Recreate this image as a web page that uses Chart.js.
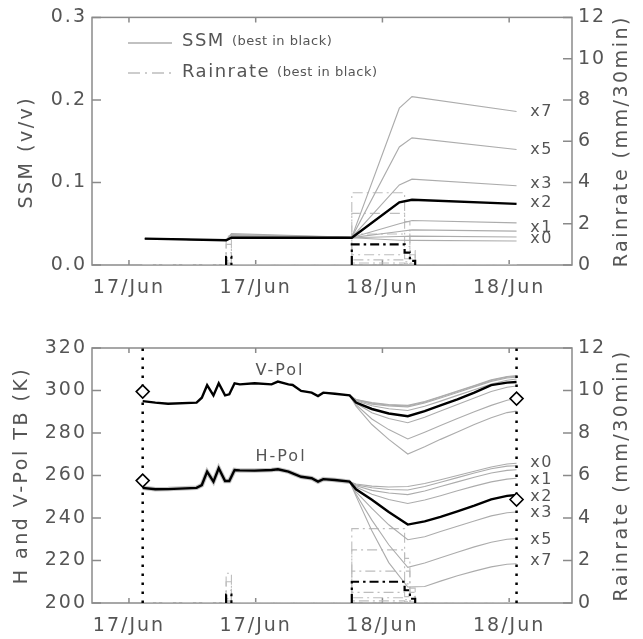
<!DOCTYPE html>
<html>
<head>
<meta charset="utf-8">
<script src="https://cdn.jsdelivr.net/npm/chart.js@4.4.0/dist/chart.umd.min.js"></script>
<style>
  html, body { margin: 0; padding: 0; background: #fff; }
  #wrap { position: relative; width: 643px; height: 639px; }
  canvas { position: absolute; left: 0; }
</style>
</head>
<body>
<div id="wrap">
  <canvas id="ssm" width="643" height="320" style="top:0"></canvas>
  <canvas id="tb" width="643" height="319" style="top:320px"></canvas>
</div>
<script>
'use strict';

// Time axis is hours since 17/Jun 00:00.
const X_TICKS = [0, 12, 24, 36];
const X_TICK_LABELS = ['17/Jun', '17/Jun', '18/Jun', '18/Jun'];

// --- top panel: surface soil moisture, one run per rain multiplier
const SSM_T  = [1.5, 9.2, 9.7, 21.1, 25.6, 26.8, 36.7];
const SSM_X0 = [0.032, 0.030, 0.0325, 0.0330, 0.0300, 0.0298, 0.0290];
const SSM_XB = [0.032, 0.030, 0.0330, 0.0331, 0.0345, 0.0350, 0.0340];
const SSM_XA = [0.032, 0.030, 0.0340, 0.0332, 0.0405, 0.0425, 0.0410];
const SSM_X1 = [0.032, 0.030, 0.0350, 0.0333, 0.0500, 0.0540, 0.0510];
const SSM_X2 = [0.032, 0.030, 0.0330, 0.0330, 0.0760, 0.0790, 0.0740];
const SSM_X3 = [0.032, 0.030, 0.0360, 0.0334, 0.0970, 0.1040, 0.0960];
const SSM_X5 = [0.032, 0.030, 0.0370, 0.0335, 0.1430, 0.1540, 0.1400];
const SSM_X7 = [0.032, 0.030, 0.0380, 0.0336, 0.1900, 0.2040, 0.1860];
const SSM_LABELS   = ['x7', 'x5', 'x3', 'x2', 'x1', 'x0'];
const SSM_LABEL_AT = [0.186, 0.140, 0.098, 0.075, 0.045, 0.032];

// --- rain rate (mm/30min), stepped
const RAIN_T  = [1.3, 9.2, 9.2, 9.7, 21.1, 21.1, 26.1, 26.6, 27.1, 36.7];
const RAIN_X0 = [0, 0, 0,    0, 0, 0,    0,    0,    0, 0];
const RAIN_XB = [0, 0, 0.04, 0, 0, 0.10, 0.06, 0.02, 0, 0];
const RAIN_XA = [0, 0, 0.10, 0, 0, 0.25, 0.15, 0.05, 0, 0];
const RAIN_X1 = [0, 0, 0.20, 0, 0, 0.50, 0.30, 0.10, 0, 0];
const RAIN_X2 = [0, 0, 0.40, 0, 0, 1.00, 0.60, 0.20, 0, 0];
const RAIN_X3 = [0, 0, 0.60, 0, 0, 1.50, 0.90, 0.30, 0, 0];
const RAIN_X5 = [0, 0, 1.00, 0, 0, 2.50, 1.50, 0.50, 0, 0];
const RAIN_X7 = [0, 0, 1.40, 0, 0, 3.50, 2.10, 0.70, 0, 0];

// --- bottom panel: brightness temperatures (K)
const TB_PRE_T = [1.3, 2.5, 3.7, 6.4, 6.9, 7.4, 8.0, 8.5, 9.1, 9.5, 10.0, 10.5, 11.9,
                  13.5, 14.1, 15.1, 15.5, 16.3, 17.3, 17.9, 18.4, 19.5, 20.9];
const V_PRE = [295.0, 294.3, 293.8, 294.3, 296.6, 302.5, 297.7, 303.4, 297.7, 298.2, 303.4, 302.9, 303.4,
               302.9, 304.2, 302.9, 302.6, 299.8, 299.0, 297.4, 299.0, 298.5, 297.7];
const H_PRE = [254.2, 253.5, 253.6, 254.2, 255.5, 261.8, 257.1, 263.4, 257.4, 257.4, 262.6, 262.4, 262.3,
               262.6, 262.9, 261.8, 261.0, 259.4, 258.7, 257.1, 258.3, 257.9, 257.1];

const TB_POST_T = [20.9, 21.5, 23.0, 24.6, 26.4, 28.0, 29.5, 31.1, 32.7, 34.3, 35.8, 36.7];
const V_X0 = [297.7, 295.8, 294.3, 293.4, 293.0, 294.8, 297.2, 299.8, 302.4, 305.0, 306.6, 307.0];
const V_XB = [297.7, 295.7, 294.0, 293.1, 292.7, 294.5, 296.9, 299.5, 302.1, 304.7, 306.3, 306.7];
const V_XA = [297.7, 295.5, 293.6, 292.7, 292.3, 294.1, 296.5, 299.1, 301.7, 304.3, 305.9, 306.3];
const V_X1 = [297.7, 295.2, 292.8, 291.4, 290.6, 292.6, 295.0, 297.7, 300.4, 303.0, 304.8, 305.4];
const V_X2 = [297.7, 294.3, 291.3, 289.2, 287.9, 290.3, 293.0, 295.8, 299.0, 302.5, 303.7, 304.0];
const V_X3 = [297.7, 294.0, 289.5, 286.8, 284.8, 287.4, 290.4, 293.4, 296.5, 299.5, 301.5, 302.1];
const V_X5 = [297.7, 293.3, 286.6, 281.6, 277.2, 280.4, 283.5, 286.8, 290.0, 293.0, 295.4, 296.2];
const V_X7 = [297.7, 292.6, 284.0, 277.0, 270.1, 273.5, 277.0, 280.5, 284.0, 287.2, 289.6, 290.3];
const H_X0 = [257.1, 256.0, 255.0, 254.6, 254.8, 256.2, 258.0, 260.0, 262.0, 264.0, 265.4, 265.8];
const H_XB = [257.1, 255.6, 254.2, 253.4, 253.2, 254.8, 256.8, 259.0, 261.2, 263.2, 264.4, 264.6];
const H_XA = [257.1, 255.2, 253.0, 251.8, 251.0, 252.7, 254.8, 257.0, 259.2, 261.2, 262.4, 262.7];
const H_X1 = [257.1, 254.6, 251.2, 248.7, 246.8, 248.5, 250.5, 252.8, 255.0, 257.0, 258.3, 258.7];
const H_X2 = [257.1, 253.5, 248.6, 242.8, 236.9, 238.4, 240.5, 243.1, 245.8, 248.8, 250.4, 250.8];
const H_X3 = [257.1, 252.3, 244.5, 236.8, 229.8, 231.2, 233.6, 236.1, 238.6, 241.0, 242.5, 242.8];
const H_X5 = [257.1, 251.2, 239.0, 227.4, 216.8, 218.8, 221.3, 223.9, 226.4, 228.6, 230.0, 230.3];
const H_X7 = [257.1, 250.3, 234.0, 219.0, 207.5, 207.8, 210.3, 212.8, 215.0, 217.0, 218.2, 218.5];
const TB_LABELS   = ['x0', 'x1', 'x2', 'x3', 'x5', 'x7'];
const TB_LABEL_AT = [265.9, 257.9, 249.8, 242.2, 229.9, 219.9];

// observation markers (diamonds) and the dotted overpass lines
const MARK_T  = [1.3, 1.3, 36.7, 36.7];
const MARK_TB = [299.5, 257.6, 296.2, 248.7];
const OVERPASS_T = [1.3, 36.7];

// ---------------------------------------------------------------
const FONT = 'DejaVu Sans';
const INK = '#555';
const FRAME = '#8a8a8a';
const GREY = '#acacac';
const RAIN_GREY = '#bdbdbd';
const LABEL_T = 38.0;

function pts(ts, vs) {
  return ts.map((t, i) => ({ x: t, y: vs[i] }));
}

function line(ts, vs, best, extra) {
  return Object.assign({
    data: pts(ts, vs),
    yAxisID: 'y',
    borderColor: best ? '#000' : GREY,
    borderWidth: best ? 2.4 : 1.1,
    pointRadius: 0,
    tension: 0,
    fill: false,
  }, extra || {});
}

function rain(vs, best) {
  const ds = line(RAIN_T, vs, best, {
    yAxisID: 'yR',
    stepped: true,
    borderColor: best ? '#000' : RAIN_GREY,
    borderWidth: best ? 2.2 : 1.1,
    borderDash: best ? [9, 4, 2.5, 4] : [10, 4, 2, 4],
  });
  // the best run is only drawn where it rains
  if (best) {
    ds.segment = {
      borderColor: c => (c.p0.parsed.y === 0 && c.p1.parsed.y === 0 ? 'rgba(0,0,0,0)' : '#000'),
    };
  }
  return ds;
}

function xAxis(h) {
  return {
    type: 'linear', min: -3.5, max: 41.95,
    grid: { display: false, drawTicks: false }, border: { display: false },
    afterBuildTicks: s => { s.ticks = X_TICKS.map(v => ({ value: v })); },
    ticks: {
      color: INK, font: { family: FONT, size: 19 }, padding: 12,
      maxRotation: 0, autoSkip: false,
      callback: (v, i) => X_TICK_LABELS[i],
    },
    afterFit: s => { s.height = h; },
  };
}

function yAxis(pos, min, max, step, digits, w) {
  return {
    type: 'linear', position: pos, min, max,
    grid: { display: false, drawTicks: false }, border: { display: false },
    ticks: {
      stepSize: step, color: INK, font: { family: FONT, size: 19 },
      padding: pos === 'left' ? 5 : 6,
      callback: v => v.toFixed(digits),
    },
    afterFit: s => { s.width = w; },
  };
}

function txt(ctx, s, x, y, size, spacing, align, color) {
  ctx.font = size + 'px "' + FONT + '"';
  ctx.letterSpacing = spacing + 'px';
  ctx.textAlign = align || 'left';
  ctx.textBaseline = 'middle';
  ctx.fillStyle = color || INK;
  ctx.fillText(s, x, y);
}

function vtxt(ctx, s, x, y) {
  ctx.save();
  ctx.translate(x, y);
  ctx.rotate(-Math.PI / 2);
  txt(ctx, s, 0, 0, 19, 2.5, 'center');
  ctx.restore();
}

// IDL-like box: grey frame with inward ticks, plus free text.
function idlPlot(leftTitle, leftDy, leftX, drawText) {
  return {
    id: 'idlPlot',
    beforeDraw(chart) { chart.ctx.letterSpacing = '2px'; },
    beforeDatasetsDraw(chart) {
      const { ctx, chartArea: a, scales } = chart;
      ctx.save();
      ctx.letterSpacing = '0px';
      ctx.strokeStyle = FRAME;
      ctx.lineWidth = 1.5;
      ctx.strokeRect(a.left, a.top, a.right - a.left, a.bottom - a.top);
      ctx.beginPath();
      scales.x.ticks.forEach(t => {
        const p = scales.x.getPixelForValue(t.value);
        ctx.moveTo(p, a.top); ctx.lineTo(p, a.top + 5);
        ctx.moveTo(p, a.bottom); ctx.lineTo(p, a.bottom - 5);
      });
      scales.y.ticks.forEach(t => {
        const p = scales.y.getPixelForValue(t.value);
        ctx.moveTo(a.left, p); ctx.lineTo(a.left + 9, p);
      });
      scales.yR.ticks.forEach(t => {
        const p = scales.yR.getPixelForValue(t.value);
        ctx.moveTo(a.right, p); ctx.lineTo(a.right - 9, p);
      });
      ctx.stroke();
      ctx.restore();
    },
    afterDraw(chart) {
      const { ctx, chartArea: a } = chart;
      const mid = (a.top + a.bottom) / 2;
      vtxt(ctx, leftTitle, leftX, mid + leftDy);
      vtxt(ctx, 'Rainrate (mm/30min)', a.right + 50, mid);
      ctx.save();
      drawText(chart);
      ctx.restore();
    },
  };
}

function baseOptions(padTop) {
  return {
    responsive: false,
    animation: false,
    devicePixelRatio: 1,
    layout: { padding: { top: padTop, left: 0, right: 0, bottom: 0 } },
    plugins: { legend: { display: false }, tooltip: { enabled: false } },
  };
}

// ---------------- top: SSM + rain ----------------
const ssmOpts = baseOptions(10);
ssmOpts.scales = {
  x: xAxis(55),
  y: yAxis('left', 0, 0.3, 0.1, 1, 92),
  yR: yAxis('right', 0, 12, 2, 0, 71),
};

new Chart(document.getElementById('ssm'), {
  type: 'line',
  data: {
    datasets: [
      rain(RAIN_X2, true),
      line(SSM_T, SSM_X2, true),
      line(SSM_T, SSM_X0), line(SSM_T, SSM_XB), line(SSM_T, SSM_XA), line(SSM_T, SSM_X1),
      line(SSM_T, SSM_X3), line(SSM_T, SSM_X5), line(SSM_T, SSM_X7),
      rain(RAIN_X0), rain(RAIN_XB), rain(RAIN_XA), rain(RAIN_X1),
      rain(RAIN_X3), rain(RAIN_X5), rain(RAIN_X7),
    ],
  },
  options: ssmOpts,
  plugins: [idlPlot('SSM (v/v)', 11, 27, chart => {
    const { ctx, chartArea: a, scales } = chart;
    // legend
    ctx.lineWidth = 1.5;
    ctx.strokeStyle = GREY;
    ctx.beginPath(); ctx.moveTo(a.left + 36, 43); ctx.lineTo(a.left + 80, 43); ctx.stroke();
    ctx.strokeStyle = RAIN_GREY;
    ctx.setLineDash([12, 5, 2, 5]);
    ctx.beginPath(); ctx.moveTo(a.left + 36, 73); ctx.lineTo(a.left + 80, 73); ctx.stroke();
    ctx.setLineDash([]);
    txt(ctx, 'SSM', a.left + 90, 41, 18, 1.5);
    let w = ctx.measureText('SSM').width;
    txt(ctx, '(best in black)', a.left + 97 + w, 42, 13, 0.5);
    txt(ctx, 'Rainrate', a.left + 90, 72, 18, 1.5);
    w = ctx.measureText('Rainrate').width;
    txt(ctx, '(best in black)', a.left + 97 + w, 73, 13, 0.5);
    // multiplier labels
    const x = scales.x.getPixelForValue(LABEL_T);
    SSM_LABELS.forEach((s, i) => txt(ctx, s, x, scales.y.getPixelForValue(SSM_LABEL_AT[i]), 16, 1.5));
  })],
});

// ---------------- bottom: TB + rain ----------------
const tbOpts = baseOptions(28);
tbOpts.scales = {
  x: xAxis(36),
  y: yAxis('left', 200, 320, 20, 0, 92),
  yR: yAxis('right', 0, 12, 2, 0, 71),
};

const overpass = OVERPASS_T.map(t => line([t, t], [200, 320], true, {
  borderWidth: 2.5, borderDash: [2.5, 6.5], borderCapStyle: 'butt',
}));

new Chart(document.getElementById('tb'), {
  type: 'line',
  data: {
    datasets: [
      {
        data: pts(MARK_T, MARK_TB), yAxisID: 'y', showLine: false,
        pointStyle: 'rectRot', pointRadius: 6.5, borderColor: '#000', borderWidth: 1.6,
        backgroundColor: '#fff',
      },
      ...overpass,
      rain(RAIN_X2, true),
      line(TB_PRE_T.concat(TB_POST_T), V_PRE.concat(V_X2), true),
      line(TB_PRE_T.concat(TB_POST_T), H_PRE.concat(H_X2), true),
      line(TB_POST_T, V_X0), line(TB_POST_T, V_XB), line(TB_POST_T, V_XA), line(TB_POST_T, V_X1),
      line(TB_POST_T, V_X3), line(TB_POST_T, V_X5), line(TB_POST_T, V_X7),
      line(TB_POST_T, H_X0), line(TB_POST_T, H_XB), line(TB_POST_T, H_XA), line(TB_POST_T, H_X1),
      line(TB_POST_T, H_X3), line(TB_POST_T, H_X5), line(TB_POST_T, H_X7),
      line(TB_PRE_T, H_PRE, false, { borderWidth: 4.5, borderColor: '#c4c4c4' }),
      rain(RAIN_X0), rain(RAIN_XB), rain(RAIN_XA), rain(RAIN_X1),
      rain(RAIN_X3), rain(RAIN_X5), rain(RAIN_X7),
    ],
  },
  options: tbOpts,
  plugins: [idlPlot('H and V-Pol TB (K)', 0, 22, chart => {
    const { ctx, scales } = chart;
    txt(ctx, 'V-Pol', scales.x.getPixelForValue(14.3), scales.y.getPixelForValue(309.1), 16, 2, 'center');
    txt(ctx, 'H-Pol', scales.x.getPixelForValue(14.4), scales.y.getPixelForValue(268.8), 16, 2, 'center');
    const x = scales.x.getPixelForValue(LABEL_T);
    TB_LABELS.forEach((s, i) => txt(ctx, s, x, scales.y.getPixelForValue(TB_LABEL_AT[i]), 16, 1.5));
  })],
});
</script>
</body>
</html>
